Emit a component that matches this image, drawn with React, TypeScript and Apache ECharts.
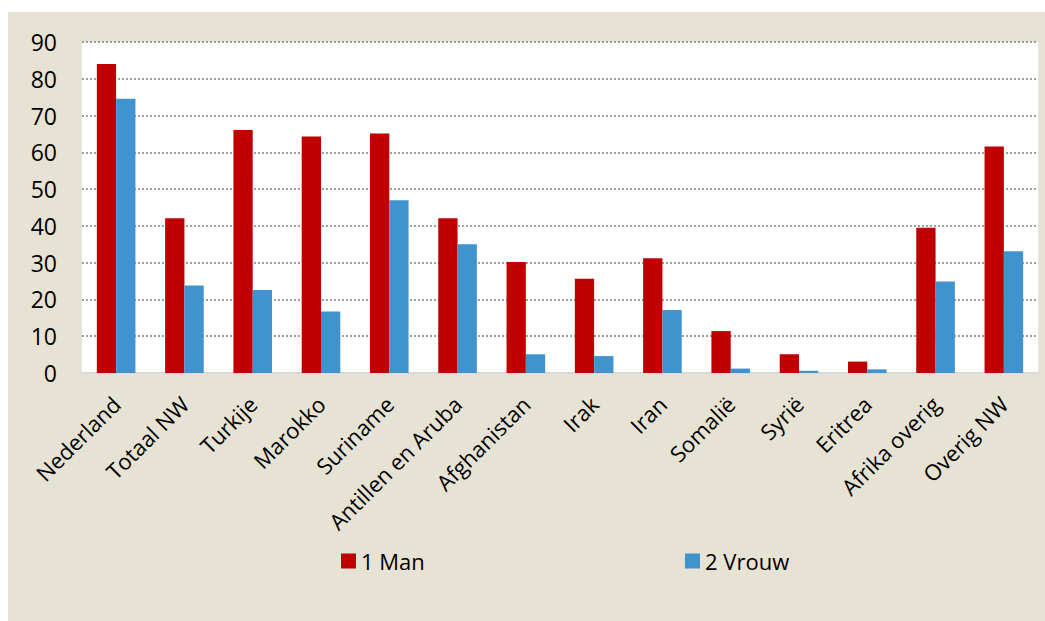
import React, { useEffect, useRef } from "react";
import * as echarts from "echarts";

const categories = [
  "Nederland",
  "Totaal NW",
  "Turkije",
  "Marokko",
  "Suriname",
  "Antillen en Aruba",
  "Afghanistan",
  "Irak",
  "Iran",
  "Somalië",
  "Syrië",
  "Eritrea",
  "Afrika overig",
  "Overig NW",
];
const manValues = [84.0, 42.1, 66.1, 64.3, 65.1, 42.1, 30.2, 25.6, 31.2, 11.4, 5.1, 3.1, 39.5, 61.6];
const vrouwValues = [74.6, 23.8, 22.6, 16.7, 47.0, 35.0, 5.1, 4.6, 17.1, 1.2, 0.6, 1.0, 24.9, 33.1];
const seriesNames = ["1 Man", "2 Vrouw"];
const FONT = "'Open Sans', Lato, 'Liberation Sans', sans-serif";

export default function App() {
  const ref = useRef<HTMLDivElement>(null);
  useEffect(() => {
    if (!ref.current) return;
    const chart = echarts.init(ref.current, undefined, { renderer: "svg" });
    chart.setOption({
      animation: false,
      backgroundColor: "#E6E3D5",
      textStyle: { fontFamily: FONT },
      grid: {
        left: 74,
        right: 7,
        top: 30,
        bottom: 248,
        show: true,
        backgroundColor: "#FFFFFF",
        borderWidth: 0,
        containLabel: false,
      },
      legend: [
        {
          data: [seriesNames[0]],
          left: 328,
          top: 533,
          itemWidth: 15,
          itemHeight: 15,
          icon: "rect",
          textStyle: { fontSize: 22, color: "#000", fontFamily: FONT },
        },
        {
          data: [seriesNames[1]],
          left: 672,
          top: 533,
          itemWidth: 15,
          itemHeight: 15,
          icon: "rect",
          textStyle: { fontSize: 22, color: "#000", fontFamily: FONT },
        },
      ],
      xAxis: {
        type: "category",
        data: categories,
        axisLine: { show: true, lineStyle: { color: "#D9D9D9", width: 2 } },
        axisTick: { show: false },
        axisLabel: {
          interval: 0,
          rotate: 45,
          fontSize: 22,
          color: "#000",
          margin: 27,
          fontFamily: FONT,
        },
      },
      yAxis: {
        type: "value",
        min: 0,
        max: 90,
        interval: 10,
        axisLine: { show: false },
        axisTick: { show: false },
        axisLabel: { fontSize: 23, color: "#000", margin: 25, fontFamily: FONT },
        splitLine: {
          show: true,
          lineStyle: { color: "#7F7F7F", width: 1.5, type: [2, 2] },
        },
      },
      series: [
        {
          name: seriesNames[0],
          type: "bar",
          data: manValues,
          barWidth: 19.3,
          barGap: "0%",
          itemStyle: { color: "#C00000" },
        },
        {
          name: seriesNames[1],
          type: "bar",
          data: vrouwValues,
          barWidth: 19.3,
          barGap: "0%",
          itemStyle: { color: "#4193D0" },
        },
      ],
    });
    return () => chart.dispose();
  }, []);
  return (
    <div
      ref={ref}
      style={{ position: "absolute", left: 8, top: 12, width: 1037, height: 609 }}
    />
  );
}
